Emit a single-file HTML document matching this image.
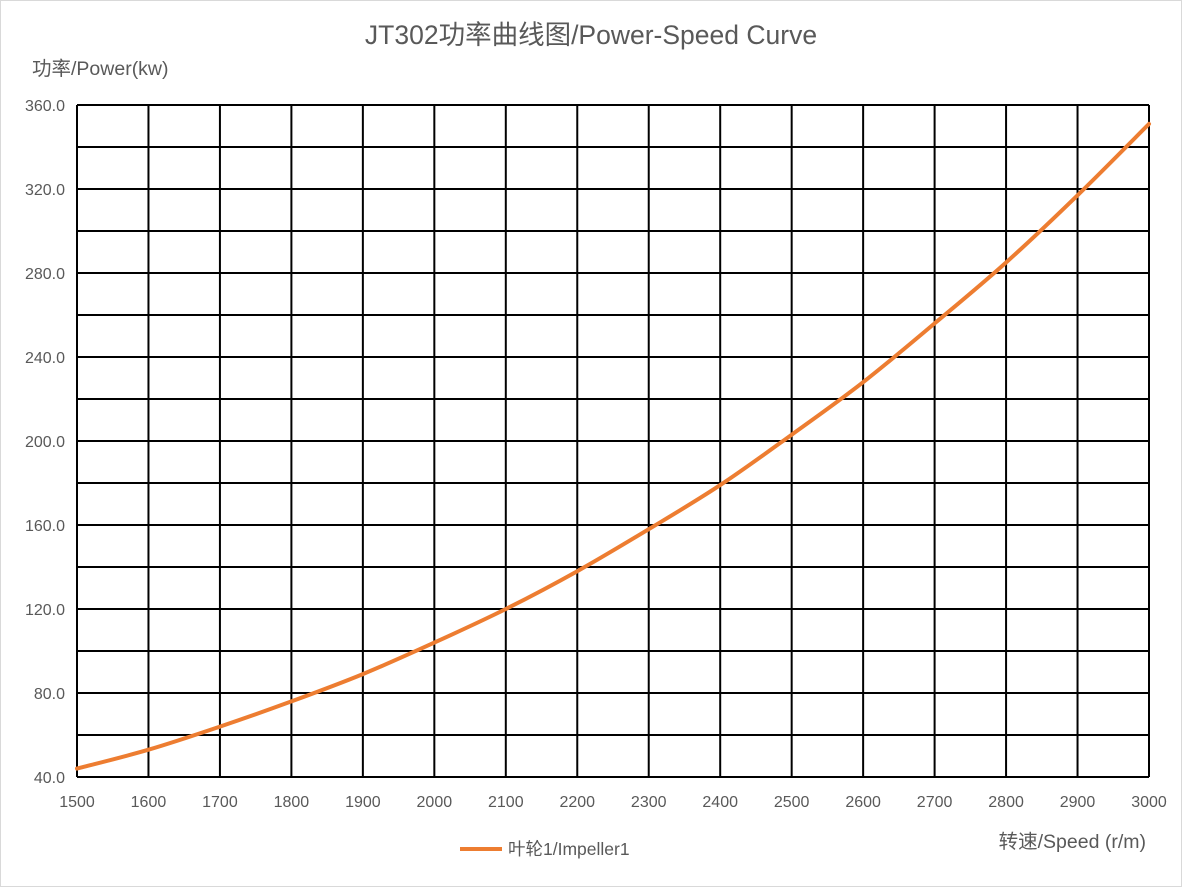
<!DOCTYPE html>
<html><head><meta charset="utf-8"><style>
html,body{margin:0;padding:0;background:#fff;}
svg{display:block;}
text{font-family:"Liberation Sans","Noto Sans CJK SC",sans-serif;fill:#595959;}
</style></head><body>
<svg id="chart" width="1183" height="888">
<rect x="0.5" y="0.5" width="1181" height="886" fill="#fff" stroke="#d9d9d9"/>
<text x="591" y="44" text-anchor="middle" font-size="26.5">JT302功率曲线图/Power-Speed Curve</text>
<text x="32" y="75" font-size="19.5">功率/Power(kw)</text>
<text x="1146" y="848" text-anchor="end" font-size="19.5">转速/Speed (r/m)</text>
<g id="grid"></g><g id="ylabels"></g><g id="xlabels"></g><g id="series"></g>
<line x1="460" y1="849" x2="502" y2="849" stroke="#ED7D31" stroke-width="4"/>
<text x="508" y="855" font-size="17.5">叶轮1/Impeller1</text>
</svg>
<script>
const speeds=[1500,1600,1700,1800,1900,2000,2100,2200,2300,2400,2500,2600,2700,2800,2900,3000];
const power=[44,53,64,76,89,104,120,138,158,179,203,228,256,285,317,351];
const yTicks=[40,80,120,160,200,240,280,320,360];
const xTicks=[1500,1600,1700,1800,1900,2000,2100,2200,2300,2400,2500,2600,2700,2800,2900,3000];
const NS="http://www.w3.org/2000/svg";
const L=77,R=1149,T=105,B=777;
const xs=v=>L+(v-1500)/(3000-1500)*(R-L);
const ys=v=>B-(v-40)/(360-40)*(B-T);
function mk(tag,attrs,parent){const e=document.createElementNS(NS,tag);for(const k in attrs)e.setAttribute(k,attrs[k]);document.getElementById(parent).appendChild(e);return e;}
for(let v=40;v<=360;v+=20){
 const l=mk('line',{x1:L,x2:R,y1:ys(v),y2:ys(v),stroke:'#000','stroke-width':2},'grid');
 
 
}
xTicks.forEach(v=>{
 const l=mk('line',{x1:xs(v),x2:xs(v),y1:T,y2:B,stroke:'#000','stroke-width':2},'grid');
 
 
 const t=mk('text',{x:xs(v),y:B+30,'text-anchor':'middle','font-size':16},'xlabels');
 t.textContent=v;
 
 
});
yTicks.forEach(v=>{
 const t=mk('text',{x:65,y:ys(v)+6,'text-anchor':'end','font-size':16},'ylabels');
 t.textContent=v.toFixed(1);
 
 
});
const pts=speeds.map((s,i)=>[xs(s),ys(power[i])]);
let d='M'+pts[0][0]+','+pts[0][1];
for(let i=0;i<pts.length-1;i++){
 const p0=pts[Math.max(0,i-1)],p1=pts[i],p2=pts[i+1],p3=pts[Math.min(pts.length-1,i+2)];
 const c1=[p1[0]+(p2[0]-p0[0])/6,p1[1]+(p2[1]-p0[1])/6],c2=[p2[0]-(p3[0]-p1[0])/6,p2[1]-(p3[1]-p1[1])/6];
 d+=' C'+c1+' '+c2+' '+p2;
}
const path=mk('path',{d:d,fill:'none',stroke:'#ED7D31','stroke-width':4,'stroke-linecap':'round'},'series');


</script>
</body></html>
